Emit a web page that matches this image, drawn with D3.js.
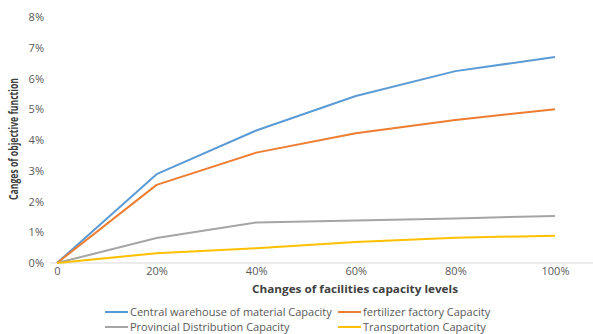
<!DOCTYPE html>
<html>
<head>
<meta charset="utf-8">
<script src="https://cdn.jsdelivr.net/npm/d3@7"></script>
<style>
  html, body { margin: 0; padding: 0; background: #fff; }
  svg { display: block; font-family: "Open Sans", "Liberation Sans", sans-serif; }
</style>
</head>
<body>
<svg id="chart" width="593" height="334"></svg>
<script>
// Capacity change levels along the x axis
const levels = ["0", "20%", "40%", "60%", "80%", "100%"];

// Change of the objective function (%) for each facility type
const centralWarehouse = [0, 2.89, 4.31, 5.43, 6.24, 6.70];
const fertilizerFactory = [0, 2.54, 3.59, 4.22, 4.65, 5.00];
const provincialDistribution = [0, 0.81, 1.32, 1.38, 1.45, 1.53];
const transportation = [0, 0.32, 0.48, 0.68, 0.82, 0.89];

const seriesNames = [
  "Central warehouse of material Capacity",
  "fertilizer factory Capacity",
  "Provincial Distribution Capacity",
  "Transportation Capacity"
];
const seriesColors = ["#5b9bd5", "#ed7d31", "#a5a5a5", "#ffc000"];
const yTicks = [0, 1, 2, 3, 4, 5, 6, 7, 8];

const series = [centralWarehouse, fertilizerFactory, provincialDistribution, transportation];

const svg = d3.select("#chart");

const x = d3.scalePoint().domain(levels).range([57, 555]);
const y = d3.scaleLinear().domain([0, 8]).range([263, 17]);

const textColor = "#595959";
const narrowFont = "\"Liberation Sans Narrow\", \"Open Sans\", sans-serif";

// Horizontal baseline
svg.append("line")
  .attr("x1", 50).attr("x2", 593)
  .attr("y1", y(0)).attr("y2", y(0))
  .attr("stroke", "#d9d9d9").attr("stroke-width", 1);

// Y axis tick labels
const yAxis = d3.axisLeft(y).tickValues(yTicks).tickFormat(d => d + "%").tickSize(0).tickPadding(0);
const gy = svg.append("g").attr("transform", "translate(44,0)").call(yAxis);
gy.select(".domain").remove();
gy.selectAll("text").attr("fill", textColor).style("font-size", "11px")
  .style("font-family", "\"Open Sans\", \"Liberation Sans\", sans-serif");

// X axis tick labels
const xAxis = d3.axisBottom(x).tickSize(0).tickPadding(0);
const gx = svg.append("g").attr("transform", "translate(0,267)").call(xAxis);
gx.select(".domain").remove();
gx.selectAll("text").attr("fill", textColor).style("font-size", "11px")
  .style("font-family", "\"Open Sans\", \"Liberation Sans\", sans-serif");

// Lines
const line = d3.line().x((d, i) => x(levels[i])).y(d => y(d));
series.forEach((s, i) => {
  svg.append("path")
    .datum(s)
    .attr("fill", "none")
    .attr("stroke", seriesColors[i])
    .attr("stroke-width", 2)
    .attr("stroke-linejoin", "round")
    .attr("d", line);
});

// Axis titles
svg.append("text")
  .attr("x", 355).attr("y", 293)
  .attr("text-anchor", "middle")
  .attr("fill", "#404040")
  .style("font-size", "11px").style("font-weight", "bold")
  .attr("textLength", 206).attr("lengthAdjust", "spacingAndGlyphs")
  .text("Changes of facilities capacity levels");

svg.append("text")
  .attr("transform", "translate(18,139) rotate(-90)")
  .attr("text-anchor", "middle")
  .attr("fill", "#404040")
  .style("font-family", narrowFont)
  .style("font-size", "12px").style("font-weight", "bold")
  .attr("textLength", 122).attr("lengthAdjust", "spacingAndGlyphs")
  .text("Canges of objective function");

// Legend, two columns
const legendPos = [[105, 312], [338, 312], [105, 327], [338, 327]];
seriesNames.forEach((name, i) => {
  const [lx, ly] = legendPos[i];
  svg.append("line")
    .attr("x1", lx).attr("x2", lx + 23)
    .attr("y1", ly).attr("y2", ly)
    .attr("stroke", seriesColors[i]).attr("stroke-width", 2);
  svg.append("text")
    .attr("x", lx + 25).attr("y", ly + 4)
    .attr("fill", textColor)
    .style("font-size", "11px")
    .text(name);
});
</script>
</body>
</html>
